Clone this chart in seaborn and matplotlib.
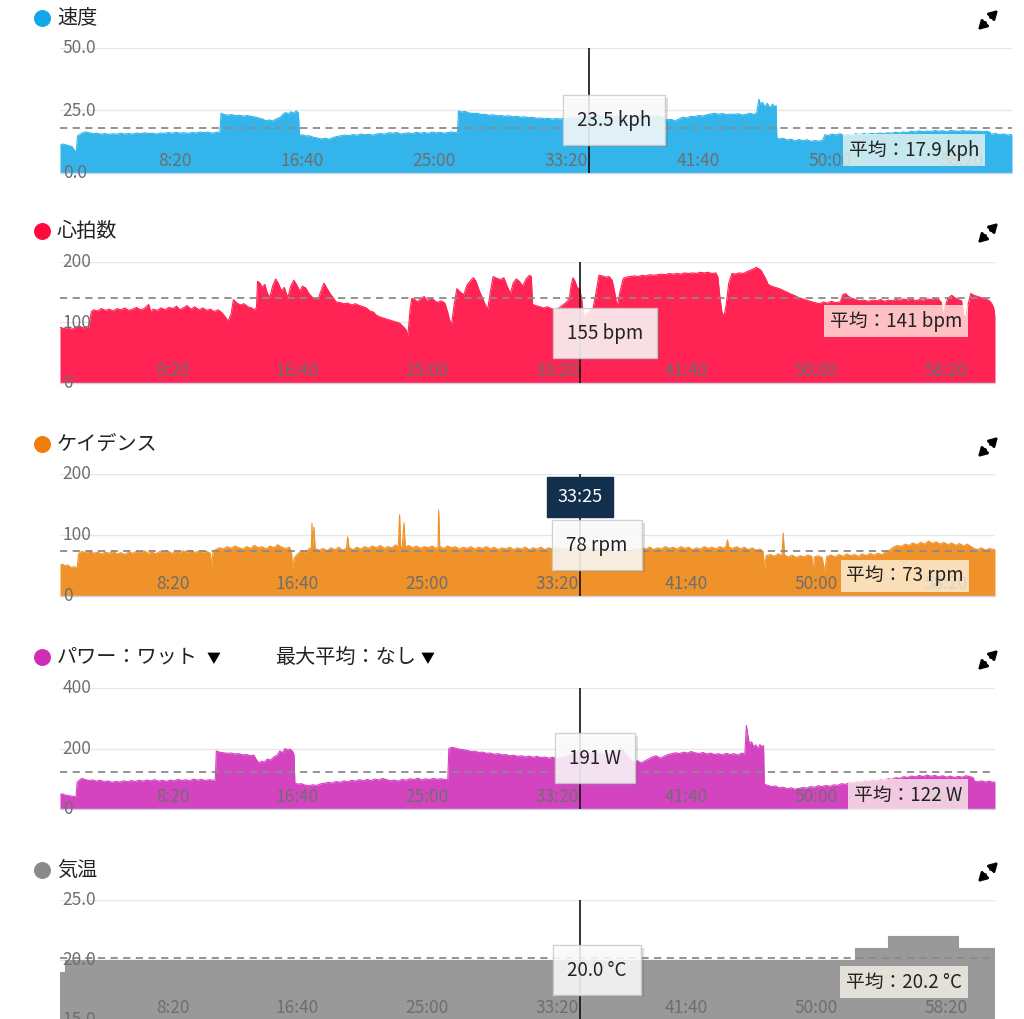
import pandas as pd
import matplotlib.pyplot as plt
from matplotlib import patheffects as pe
import seaborn as sns

W, H = 1024, 1019

# ---- values as (time in s, value) ----
speed_pts = [(0, 11.0), (10, 11.6), (20, 11.3), (30, 11.0), (45, 10.6), (55, 9.0), (62, 8.6),
             (66, 14.8), (75, 15.4), (85, 16.0), (95, 16.4), (110, 16.1), (125, 15.7), (140, 15.9),
             (155, 15.5), (170, 15.8), (185, 15.4), (200, 15.7), (215, 15.5), (230, 15.9),
             (245, 15.6), (260, 15.8), (275, 15.5), (290, 16.0), (305, 15.7), (320, 16.1),
             (335, 15.8), (350, 15.9), (365, 15.6), (380, 16.0), (395, 15.8), (410, 16.2),
             (425, 15.9), (440, 16.3), (455, 15.9), (470, 16.1), (485, 15.8), (500, 16.2),
             (515, 16.0), (530, 16.4), (545, 16.1), (560, 16.4), (575, 15.9), (590, 16.2),
             (606, 16.4), (610, 23.9), (620, 23.4), (635, 23.1), (650, 23.4), (665, 22.9),
             (680, 23.1), (695, 22.7), (710, 23.0), (725, 22.6), (740, 22.4), (755, 21.9),
             (770, 21.5), (780, 20.9), (795, 21.2), (805, 20.8), (820, 21.7), (835, 22.3),
             (845, 23.5), (855, 24.2), (865, 23.6), (875, 24.5), (885, 23.9), (895, 24.8),
             (903, 24.0), (908, 14.9), (918, 15.3), (930, 14.8), (945, 14.9), (960, 14.3),
             (975, 14.0), (990, 13.6), (1005, 13.9), (1020, 13.5), (1035, 14.2), (1050, 14.6),
             (1065, 14.9), (1080, 15.2), (1095, 14.9), (1110, 15.4), (1125, 15.1), (1140, 15.6),
             (1155, 15.3), (1170, 15.5), (1185, 15.1), (1200, 15.6), (1215, 15.8), (1230, 15.5),
             (1245, 16.1), (1260, 15.9), (1275, 16.2), (1290, 15.6), (1305, 15.8), (1320, 16.1),
             (1335, 15.7), (1350, 16.3), (1365, 15.9), (1380, 16.2), (1395, 15.8), (1410, 16.4),
             (1425, 16.0), (1440, 16.3), (1455, 15.9), (1470, 16.2), (1485, 16.4), (1500, 16.1),
             (1506, 16.5), (1510, 24.8), (1520, 24.4), (1535, 24.6), (1550, 24.0), (1565, 23.8),
             (1580, 23.9), (1595, 23.4), (1610, 23.5), (1625, 23.1), (1640, 23.3), (1655, 22.9),
             (1670, 23.0), (1685, 22.7), (1700, 22.9), (1715, 22.5), (1730, 22.7), (1745, 22.3),
             (1760, 22.5), (1775, 22.1), (1790, 22.3), (1805, 21.9), (1820, 22.0), (1835, 21.7),
             (1850, 21.9), (1865, 21.5), (1880, 21.8), (1895, 21.6), (1910, 21.9), (1925, 21.7),
             (1940, 22.2), (1955, 22.0), (1970, 22.6), (1985, 23.0), (2005, 23.5), (2020, 23.1),
             (2035, 23.3), (2050, 22.8), (2065, 22.6), (2080, 22.9), (2095, 22.5), (2110, 23.0),
             (2125, 22.7), (2140, 23.2), (2155, 22.9), (2170, 23.1), (2185, 22.6), (2200, 22.9),
             (2215, 22.5), (2230, 23.0), (2245, 22.7), (2260, 22.9), (2275, 22.4), (2290, 21.8),
             (2300, 21.2), (2315, 21.5), (2330, 20.8), (2345, 21.6), (2360, 22.3), (2375, 22.0),
             (2390, 22.7), (2405, 22.5), (2420, 23.0), (2435, 22.8), (2450, 23.3), (2465, 23.6),
             (2480, 23.9), (2495, 23.5), (2510, 23.8), (2525, 23.3), (2540, 23.6), (2555, 23.4),
             (2570, 23.7), (2585, 23.2), (2600, 23.5), (2615, 23.9), (2630, 23.4), (2640, 24.2),
             (2648, 29.5), (2655, 27.2), (2662, 28.3), (2670, 26.4), (2680, 27.9), (2690, 26.0),
             (2700, 27.6), (2708, 26.3), (2713, 27.0), (2716, 14.1), (2725, 13.6), (2740, 13.9),
             (2755, 13.2), (2770, 13.5), (2785, 12.8), (2800, 13.4), (2815, 12.9), (2830, 13.3),
             (2845, 12.6), (2860, 13.0), (2875, 12.7), (2890, 13.1), (2898, 15.3), (2910, 15.0),
             (2925, 15.6), (2940, 15.2), (2955, 15.7), (2970, 15.0), (2985, 15.4), (3000, 15.1),
             (3015, 15.7), (3030, 15.3), (3045, 15.8), (3060, 15.4), (3075, 15.9), (3090, 15.6),
             (3105, 16.0), (3120, 15.7), (3135, 16.1), (3150, 15.9), (3165, 16.3), (3180, 16.0),
             (3195, 16.4), (3210, 16.2), (3225, 16.7), (3240, 16.4), (3255, 16.9), (3270, 16.5),
             (3285, 16.8), (3300, 16.6), (3315, 17.0), (3330, 16.7), (3345, 16.9), (3360, 16.5),
             (3375, 17.0), (3390, 16.8), (3405, 16.6), (3420, 17.0), (3435, 16.7), (3450, 16.9),
             (3465, 16.6), (3480, 16.8), (3495, 16.5), (3510, 16.7), (3522, 16.4), (3528, 15.5),
             (3545, 15.8), (3560, 15.3), (3575, 15.6), (3590, 15.2), (3607, 15.4)]

hr_pts = [(0, 92), (15, 90), (30, 91), (45, 89), (60, 92), (75, 94), (90, 91), (100, 93),
          (109, 88), (121, 118), (130, 121), (145, 119), (160, 123), (175, 120), (190, 122),
          (205, 119), (220, 123), (235, 121), (250, 124), (265, 120), (280, 122), (295, 125),
          (310, 121), (325, 123), (342, 130), (350, 118), (360, 122), (375, 120), (390, 124),
          (405, 121), (420, 125), (435, 123), (450, 127), (462, 121), (475, 124), (490, 128),
          (505, 122), (520, 126), (535, 121), (552, 124), (565, 120), (580, 122), (595, 118),
          (610, 121), (625, 116), (640, 108), (648, 102), (660, 114), (669, 138), (680, 133),
          (695, 129), (710, 131), (725, 126), (739, 124), (750, 121), (758, 125), (762, 168),
          (770, 166), (780, 158), (790, 163), (800, 148), (810, 142), (820, 160), (832, 172),
          (842, 165), (855, 152), (865, 158), (879, 141), (890, 160), (902, 170), (912, 163),
          (925, 152), (935, 160), (948, 157), (960, 148), (975, 141), (985, 139), (995, 138),
          (1005, 150), (1018, 165), (1028, 158), (1040, 149), (1052, 142), (1065, 134),
          (1080, 133), (1095, 131), (1110, 132), (1125, 129), (1140, 131), (1155, 128),
          (1170, 126), (1182, 124), (1195, 119), (1210, 117), (1220, 112), (1235, 109),
          (1250, 107), (1265, 105), (1280, 103), (1295, 101), (1310, 99), (1322, 94), (1335, 88),
          (1342, 78), (1350, 120), (1357, 140), (1368, 138), (1380, 134), (1392, 140),
          (1405, 143), (1415, 136), (1428, 140), (1440, 138), (1455, 133), (1470, 136),
          (1485, 132), (1495, 118), (1503, 104), (1510, 95), (1520, 128), (1531, 156),
          (1545, 150), (1558, 146), (1570, 162), (1585, 170), (1595, 174), (1605, 168),
          (1618, 152), (1630, 140), (1642, 128), (1650, 122), (1660, 150), (1671, 176),
          (1685, 173), (1700, 171), (1712, 174), (1725, 160), (1738, 148), (1748, 165),
          (1760, 172), (1772, 168), (1785, 160), (1798, 172), (1811, 178), (1818, 176),
          (1823, 130), (1835, 128), (1850, 126), (1865, 124), (1880, 126), (1895, 123),
          (1910, 121), (1925, 124), (1940, 129), (1955, 134), (1965, 140), (1972, 162),
          (1979, 174), (1987, 168), (1995, 158), (2005, 155), (2012, 140), (2021, 107),
          (2030, 112), (2045, 120), (2056, 123), (2068, 150), (2079, 178), (2092, 177),
          (2105, 175), (2118, 176), (2130, 170), (2140, 150), (2149, 126), (2160, 150),
          (2173, 173), (2185, 175), (2200, 176), (2215, 177), (2230, 176), (2245, 178),
          (2260, 177), (2275, 179), (2290, 178), (2305, 179), (2320, 180), (2335, 179),
          (2350, 181), (2365, 180), (2380, 181), (2395, 180), (2410, 182), (2425, 181),
          (2440, 182), (2455, 181), (2470, 183), (2485, 182), (2500, 183), (2515, 181),
          (2530, 182), (2538, 175), (2545, 145), (2553, 118), (2562, 110), (2570, 130),
          (2580, 165), (2592, 181), (2605, 180), (2620, 182), (2635, 181), (2650, 184),
          (2660, 186), (2672, 188), (2686, 191), (2695, 189), (2705, 186), (2715, 178),
          (2725, 170), (2732, 163), (2745, 160), (2760, 158), (2775, 156), (2790, 153),
          (2805, 150), (2820, 147), (2837, 144), (2850, 141), (2865, 139), (2880, 137),
          (2895, 135), (2910, 133), (2931, 131), (2945, 134), (2960, 132), (2975, 135),
          (2990, 133), (3010, 134), (3020, 146), (3030, 148), (3042, 143), (3055, 140),
          (3070, 138), (3085, 136), (3100, 137), (3117, 135), (3135, 137), (3150, 136),
          (3165, 138), (3180, 135), (3195, 137), (3210, 136), (3225, 138), (3240, 137),
          (3255, 139), (3270, 137), (3285, 139), (3300, 136), (3315, 138), (3330, 137),
          (3345, 139), (3360, 138), (3375, 140), (3390, 138), (3400, 133), (3406, 110),
          (3414, 125), (3425, 140), (3440, 145), (3452, 141), (3465, 138), (3478, 136),
          (3486, 112), (3494, 108), (3502, 128), (3514, 148), (3525, 145), (3540, 143),
          (3555, 141), (3570, 139), (3585, 136), (3595, 131), (3602, 124), (3607, 112)]

cad_pts = [(0, 50), (10, 52), (20, 49), (30, 51), (40, 47), (55, 48), (66, 46), (72, 70),
           (85, 73), (100, 71), (115, 74), (130, 70), (145, 72), (160, 69), (175, 72), (190, 70),
           (205, 73), (220, 69), (235, 71), (250, 68), (265, 72), (280, 70), (295, 73), (310, 71),
           (325, 74), (340, 70), (355, 72), (370, 69), (385, 73), (400, 71), (415, 74), (430, 70),
           (445, 72), (460, 71), (475, 74), (490, 72), (505, 75), (520, 71), (535, 74), (550, 72),
           (565, 73), (580, 70), (585, 48), (590, 72), (600, 76), (615, 79), (630, 77), (645, 81),
           (660, 78), (675, 82), (690, 79), (705, 77), (720, 81), (735, 78), (750, 83), (765, 79),
           (780, 81), (795, 77), (810, 82), (825, 79), (840, 84), (855, 80), (870, 78), (885, 80),
           (893, 72), (897, 42), (903, 62), (915, 68), (930, 74), (945, 72), (960, 77), (970, 80),
           (972, 119), (975, 82), (980, 113), (984, 78), (1000, 75), (1015, 78), (1030, 74),
           (1045, 79), (1060, 76), (1075, 80), (1090, 75), (1105, 78), (1110, 97), (1115, 79),
           (1130, 76), (1145, 80), (1160, 77), (1175, 81), (1190, 78), (1205, 82), (1220, 79),
           (1235, 83), (1250, 78), (1265, 81), (1280, 79), (1295, 84), (1305, 80), (1310, 133),
           (1314, 81), (1320, 79), (1327, 120), (1332, 80), (1345, 83), (1360, 79), (1375, 82),
           (1390, 78), (1405, 81), (1420, 79), (1435, 82), (1450, 78), (1458, 80), (1461, 141),
           (1465, 81), (1480, 78), (1495, 82), (1510, 79), (1525, 81), (1540, 77), (1555, 80),
           (1570, 78), (1585, 81), (1600, 77), (1615, 80), (1630, 78), (1645, 81), (1660, 77),
           (1675, 80), (1690, 76), (1705, 79), (1720, 77), (1735, 80), (1750, 76), (1765, 79),
           (1780, 77), (1795, 80), (1810, 76), (1825, 79), (1840, 77), (1855, 80), (1870, 76),
           (1885, 79), (1900, 77), (1915, 80), (1930, 76), (1945, 79), (1960, 77), (1975, 80),
           (1990, 78), (2005, 78), (2020, 77), (2035, 80), (2050, 76), (2065, 79), (2080, 77),
           (2095, 80), (2110, 75), (2125, 73), (2140, 71), (2155, 74), (2170, 72), (2185, 76),
           (2200, 74), (2215, 78), (2230, 76), (2245, 79), (2260, 77), (2275, 80), (2290, 76),
           (2305, 79), (2320, 77), (2335, 81), (2350, 78), (2365, 80), (2380, 77), (2395, 81),
           (2410, 78), (2425, 80), (2440, 76), (2455, 79), (2470, 77), (2485, 81), (2500, 78),
           (2515, 80), (2530, 77), (2545, 81), (2560, 78), (2570, 82), (2575, 92), (2580, 80),
           (2595, 78), (2610, 81), (2625, 77), (2640, 80), (2655, 76), (2670, 79), (2685, 75),
           (2700, 77), (2712, 73), (2718, 45), (2724, 66), (2740, 68), (2755, 65), (2770, 69),
           (2785, 66), (2790, 103), (2795, 67), (2810, 64), (2825, 67), (2840, 63), (2855, 66),
           (2870, 64), (2885, 67), (2900, 65), (2905, 35), (2910, 64), (2925, 66), (2940, 63),
           (2950, 40), (2958, 65), (2975, 67), (2990, 64), (3005, 68), (3020, 65), (3035, 69),
           (3050, 66), (3065, 68), (3080, 65), (3095, 69), (3110, 66), (3125, 70), (3140, 67),
           (3155, 70), (3170, 68), (3185, 72), (3200, 75), (3215, 80), (3230, 83), (3245, 81),
           (3260, 85), (3275, 83), (3290, 87), (3305, 84), (3320, 88), (3335, 85), (3350, 90),
           (3365, 86), (3380, 89), (3395, 85), (3410, 88), (3425, 84), (3440, 87), (3455, 83),
           (3470, 86), (3485, 82), (3500, 85), (3515, 81), (3525, 78), (3540, 76), (3555, 79),
           (3570, 75), (3585, 78), (3600, 76), (3607, 77)]

pow_pts = [(0, 48), (10, 50), (20, 46), (35, 44), (50, 42), (62, 40), (66, 88), (75, 96),
           (85, 101), (95, 98), (110, 94), (125, 96), (140, 92), (155, 95), (170, 90), (185, 93),
           (200, 88), (215, 91), (230, 89), (245, 93), (260, 90), (275, 94), (290, 91), (305, 95),
           (320, 92), (335, 96), (350, 93), (365, 97), (380, 92), (395, 95), (410, 91), (425, 96),
           (440, 93), (455, 98), (470, 94), (485, 97), (500, 93), (515, 99), (530, 95), (545, 98),
           (560, 94), (575, 97), (590, 95), (599, 96), (603, 192), (615, 188), (630, 186),
           (645, 184), (660, 185), (675, 182), (690, 183), (705, 179), (720, 180), (735, 176),
           (748, 178), (758, 162), (768, 152), (778, 158), (788, 155), (800, 165), (812, 162),
           (825, 172), (838, 178), (848, 192), (858, 186), (868, 200), (878, 195), (888, 198),
           (898, 190), (903, 178), (906, 86), (918, 82), (930, 84), (945, 79), (960, 77),
           (975, 80), (990, 78), (1005, 83), (1020, 85), (1035, 88), (1050, 86), (1065, 91),
           (1080, 88), (1095, 93), (1110, 90), (1125, 95), (1140, 92), (1155, 97), (1170, 93),
           (1185, 98), (1200, 94), (1215, 99), (1230, 96), (1245, 101), (1260, 97), (1275, 93),
           (1290, 96), (1305, 92), (1320, 98), (1335, 95), (1350, 100), (1365, 97), (1380, 102),
           (1395, 96), (1410, 100), (1425, 97), (1440, 101), (1455, 98), (1470, 100), (1485, 97),
           (1496, 99), (1500, 200), (1512, 204), (1525, 201), (1540, 198), (1555, 196),
           (1570, 194), (1585, 190), (1600, 191), (1615, 187), (1630, 188), (1645, 184),
           (1660, 185), (1675, 181), (1690, 183), (1705, 179), (1720, 180), (1735, 176),
           (1750, 178), (1765, 174), (1780, 176), (1795, 172), (1810, 175), (1825, 171),
           (1840, 174), (1855, 170), (1870, 172), (1885, 168), (1900, 171), (1915, 167),
           (1930, 170), (1945, 172), (1960, 176), (1975, 180), (1990, 186), (2005, 191),
           (2020, 188), (2035, 184), (2050, 187), (2065, 182), (2080, 185), (2095, 181),
           (2110, 184), (2125, 180), (2140, 189), (2155, 196), (2165, 201), (2175, 192),
           (2185, 180), (2195, 170), (2205, 160), (2215, 154), (2228, 160), (2240, 152),
           (2255, 158), (2270, 165), (2285, 172), (2300, 176), (2315, 168), (2330, 174),
           (2345, 180), (2360, 183), (2375, 186), (2390, 183), (2405, 188), (2420, 185),
           (2435, 190), (2450, 186), (2465, 183), (2480, 187), (2495, 182), (2510, 185),
           (2525, 180), (2540, 183), (2555, 179), (2570, 184), (2585, 180), (2600, 183),
           (2615, 178), (2630, 185), (2642, 182), (2648, 276), (2654, 240), (2660, 215),
           (2668, 222), (2676, 205), (2684, 212), (2692, 200), (2700, 213), (2708, 205),
           (2714, 210), (2717, 82), (2730, 78), (2745, 74), (2760, 76), (2775, 70), (2790, 72),
           (2805, 67), (2820, 70), (2835, 65), (2850, 68), (2865, 71), (2880, 69), (2895, 74),
           (2910, 72), (2925, 77), (2940, 74), (2955, 78), (2970, 75), (2985, 80), (3000, 78),
           (3015, 84), (3030, 81), (3045, 87), (3060, 85), (3075, 90), (3090, 88), (3105, 93),
           (3120, 90), (3135, 95), (3150, 92), (3165, 98), (3180, 95), (3195, 100), (3210, 98),
           (3225, 104), (3240, 101), (3255, 107), (3270, 104), (3285, 109), (3300, 106),
           (3315, 111), (3330, 107), (3345, 112), (3360, 108), (3375, 111), (3390, 106),
           (3405, 110), (3420, 105), (3435, 109), (3450, 104), (3465, 108), (3480, 105),
           (3495, 110), (3510, 107), (3522, 104), (3528, 92), (3540, 90), (3555, 93), (3570, 89),
           (3585, 92), (3600, 88), (3607, 90)]

temp_pts = [(0, 19.0), (18, 20.0), (3067, 21.0), (3196, 22.0), (3466, 21.0), (3607, 21.0)]

cursor_t = 2005          # 33:25
tick_t = [500, 1000, 1500, 2000, 2500, 3000, 3500]
tick_lbl = ['8:20', '16:40', '25:00', '33:20', '41:40', '50:00', '58:20']

panels = [
    # title, points, avg, cursor text, avg text, yticks, ylabels, fill, dot, (x0, x1, ytop, ybot)
    ('速度', speed_pts, 17.9, '23.5 kph', '平均：17.9 kph', [0, 25, 50],
     ['0.0', '25.0', '50.0'], '#33b4eb', '#12a7ea', (60, 1012, 48, 173)),
    ('心拍数', hr_pts, 141, '155 bpm', '平均：141 bpm', [0, 100, 200],
     ['0', '100', '200'], '#ff2453', '#ff0a3c', (60, 995, 262, 383)),
    ('ケイデンス', cad_pts, 73, '78 rpm', '平均：73 rpm', [0, 100, 200],
     ['0', '100', '200'], '#ef922a', '#ee7d0c', (60, 995, 474, 596)),
    ('パワー：ワット', pow_pts, 122, '191 W', '平均：122 W', [0, 200, 400],
     ['0', '200', '400'], '#d444c0', '#cf2db6', (60, 995, 688, 809)),
    ('気温', temp_pts, 20.2, '20.0 °C', '平均：20.2 °C', [15, 20, 25],
     ['15.0', '20.0', '25.0'], '#999999', '#8a8a8a', (60, 995, 900, 1020)),
]
header_y = [18, 231, 444, 657, 870]
icon_y = [20, 233, 447, 660, 872]
tip_xy = [(614, 120), (605, 333), (597, 545), (595, 758), (597, 970)]
avg_xy = [(914, 150), (896, 321), (905, 576), (908, 795), (904, 982)]

sns.set_theme(style='white')
plt.rcParams['font.family'] = ['Noto Sans CJK JP', 'DejaVu Sans']

fig = plt.figure(figsize=(W / 100, H / 100), dpi=100)
fig.patch.set_facecolor('white')

for title, pts, avg, cur, avgtxt, yt, yl, col, dot, (x0, x1, yt0, yb0) in panels:
    ax = fig.add_axes([x0 / W, 1 - yb0 / H, (x1 - x0) / W, (yb0 - yt0) / H])
    ax.set_facecolor('none')
    df = pd.DataFrame(pts, columns=['t', 'v'])
    step = title == '気温'
    for g in yt[1:]:
        ax.axhline(g, color='#e6e6e6', lw=1, zorder=0.5)
    ax.fill_between(df.t, yt[0], df.v, color=col, lw=0, zorder=1,
                    step='post' if step else None)
    sns.lineplot(data=df, x='t', y='v', ax=ax, color=col, lw=0.8, zorder=1.2,
                 drawstyle='steps-post' if step else 'default', estimator=None, sort=False)
    ax.axhline(avg, color='#8a8a8a', lw=1.3, ls=(0, (4, 3)), zorder=2)
    ax.axvline(cursor_t, color='#111111', lw=1.2, zorder=3)
    ax.set_xlim(0, 3607)
    ax.set_ylim(yt[0], yt[-1])
    ax.set_axisbelow(False)
    ax.set_xlabel('')
    ax.set_ylabel('')
    ax.set_xticks(tick_t, labels=tick_lbl)
    ax.set_yticks(yt, labels=yl)
    ax.tick_params(axis='x', length=0, pad=-15, labelsize=12.5, labelcolor='#6e6e6e')
    ax.tick_params(axis='y', length=0, pad=-2, labelsize=12.5, labelcolor='#6e6e6e')
    plt.setp(ax.get_xticklabels(), ha='right')
    plt.setp(ax.get_yticklabels(), ha='left', va='center')
    for s in ['top', 'left', 'right']:
        ax.spines[s].set_visible(False)
    ax.spines['bottom'].set_color('#ccd6eb')
    ax.spines['bottom'].set_linewidth(1)

# overlay in pixel coordinates for headers, tooltips and icons
ov = fig.add_axes([0, 0, 1, 1], zorder=10)
ov.set_xlim(0, W)
ov.set_ylim(H, 0)
ov.axis('off')
ov.patch.set_alpha(0)


def boxed(x, y, s, fc, alpha, ec, pad, tc='#222222', size=13.5, shadow=True):
    txt = ov.text(x, y, s, ha='center', va='center', fontsize=size, color=tc, zorder=5,
                  bbox=dict(boxstyle='square,pad=%s' % pad, fc=fc, ec=ec, lw=1, alpha=alpha))
    if shadow:
        txt.get_bbox_patch().set_path_effects(
            [pe.SimplePatchShadow(offset=(2, -2), alpha=0.18), pe.Normal()])
    return txt


for i, p in enumerate(panels):
    title, dot = p[0], p[8]
    hy = header_y[i]
    ov.scatter([42], [hy], s=125, color=dot, zorder=5)
    ov.text(57, hy, title, ha='left', va='center', fontsize=14.5, color='#222222')
    # expand icon: two diagonal arrows pointing outwards with a gap between them
    iy = icon_y[i]
    for (sx, sy, ex, ey) in [(990.5, iy - 2.5, 998, iy - 10), (985.5, iy + 2.5, 978, iy + 10)]:
        ov.annotate('', xy=(ex, ey), xytext=(sx, sy),
                    arrowprops=dict(arrowstyle='-|>,head_length=0.55,head_width=0.32',
                                    color='black', lw=2, mutation_scale=9,
                                    shrinkA=0, shrinkB=0))
    tx, ty = tip_xy[i]
    boxed(tx, ty, p[3], 'white', 0.85, '#c9c9c9', 0.75)
    ax_, ay_ = avg_xy[i]
    boxed(ax_, ay_, p[4], '#fffdf0', 0.72, 'none', 0.3, shadow=False)

ov.text(214, header_y[3] + 2, '▼', ha='center', va='center', fontsize=10, color='black')
ov.text(275, header_y[3], '最大平均：なし', ha='left', va='center', fontsize=14.5, color='#222222')
ov.text(428, header_y[3] + 2, '▼', ha='center', va='center', fontsize=10, color='black')

# time badge above cadence tooltip
boxed(580, 497, '33:25', '#12304e', 1.0, '#12304e', 0.6, tc='white', size=13, shadow=False)

fig.savefig('out.png', dpi=100)
